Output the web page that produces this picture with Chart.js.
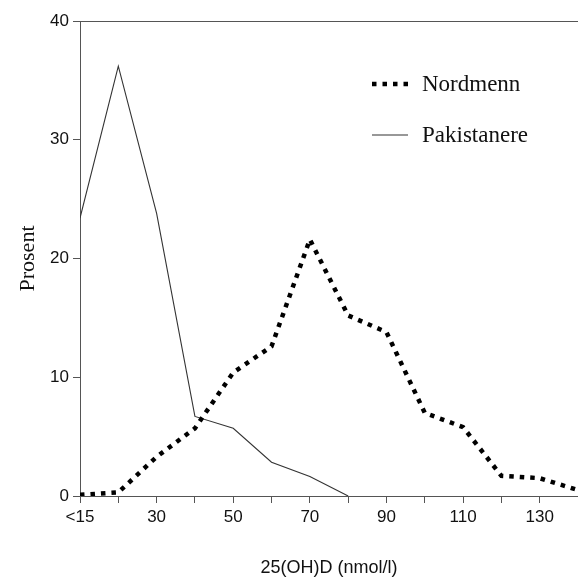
<!DOCTYPE html>
<html>
<head>
<meta charset="utf-8">
<script src="https://cdn.jsdelivr.net/npm/chart.js@4.4.1/dist/chart.umd.min.js"></script>
<style>
  html, body { margin: 0; padding: 0; background: #fff; }
  #wrap { width: 578px; height: 579px; }
</style>
</head>
<body>
<div id="wrap"><canvas id="chart" width="578" height="579"></canvas></div>
<script>
// Data (x = 25(OH)D, nmol/l; y = percent)
const xValues = [10, 20, 30, 40, 50, 60, 70, 80, 90, 100, 110, 120, 130, 140];
const nordmenn = [0.1, 0.3, 3.3, 5.7, 10.4, 12.6, 21.6, 15.2, 13.8, 7.0, 5.8, 1.7, 1.5, 0.5];
const pakXValues = [10, 20, 30, 40, 50, 60, 70, 80];
const pakistanere = [23.4, 36.2, 23.8, 6.7, 5.7, 2.85, 1.65, 0];
const xLabels = { 10: '<15', 30: '30', 50: '50', 70: '70', 90: '90', 110: '110', 130: '130' };
const yTicks = [0, 10, 20, 30, 40];

const axisColor = '#555';
const textColor = '#111';
const sans = '"Liberation Sans", Arial, sans-serif';
const serif = '"Liberation Serif", "Times New Roman", serif';

// Legend inside the plot, plus top frame line
const extras = {
    id: 'extras',
    afterDraw(chart) {
        const ctx = chart.ctx;
        const area = chart.chartArea;
        ctx.save();
        ctx.strokeStyle = axisColor;
        ctx.lineWidth = 1;
        ctx.beginPath();
        ctx.moveTo(area.left, area.top + 0.5);
        ctx.lineTo(area.right, area.top + 0.5);
        ctx.stroke();

        const items = chart.data.datasets;
        ctx.font = '23px ' + serif;
        ctx.fillStyle = textColor;
        ctx.textBaseline = 'middle';
        items.forEach((ds, i) => {
            const y = 84 + i * 51;
            ctx.beginPath();
            ctx.strokeStyle = ds.borderColor;
            ctx.lineWidth = ds.borderWidth;
            ctx.setLineDash(ds.borderDash || []);
            ctx.moveTo(372, y);
            ctx.lineTo(408, y);
            ctx.stroke();
            ctx.setLineDash([]);
            ctx.fillText(ds.label, 422, y + 1);
        });
        ctx.restore();
    }
};

new Chart(document.getElementById('chart'), {
    type: 'line',
    data: {
        datasets: [
            {
                label: 'Nordmenn',
                data: xValues.map((x, i) => ({ x: x, y: nordmenn[i] })),
                borderColor: '#000',
                borderWidth: 4.5,
                borderDash: [4.5, 6],
                borderCapStyle: 'butt',
                pointRadius: 0,
                tension: 0,
                fill: false
            },
            {
                label: 'Pakistanere',
                data: pakXValues.map((x, i) => ({ x: x, y: pakistanere[i] })),
                borderColor: '#333',
                borderWidth: 1.1,
                pointRadius: 0,
                tension: 0,
                fill: false
            }
        ]
    },
    options: {
        responsive: false,
        animation: false,
        layout: { padding: { top: 21, right: 0, left: 0, bottom: 0 } },
        plugins: {
            legend: { display: false },
            tooltip: { enabled: false }
        },
        scales: {
            x: {
                type: 'linear',
                min: 10,
                max: 140,
                afterFit: (s) => { s.height = 83; s.paddingRight = 0; s.paddingLeft = 0; },
                border: { display: true, color: axisColor, width: 1 },
                grid: { drawOnChartArea: false, drawTicks: true, tickLength: 7, color: axisColor },
                ticks: {
                    stepSize: 10,
                    autoSkip: false,
                    maxRotation: 0,
                    padding: 4,
                    color: textColor,
                    font: { family: sans, size: 17 },
                    callback: (v) => xLabels[v] || ''
                },
                title: {
                    display: true,
                    text: '25(OH)D (nmol/l)',
                    color: textColor,
                    font: { family: sans, size: 18 },
                    padding: { top: 0, bottom: 0 }
                }
            },
            y: {
                min: 0,
                max: 40,
                afterFit: (s) => { s.width = 80; },
                afterBuildTicks: (s) => { s.ticks = yTicks.map(v => ({ value: v })); },
                border: { display: true, color: axisColor, width: 1 },
                grid: { drawOnChartArea: false, drawTicks: true, tickLength: 7, color: axisColor },
                ticks: {
                    padding: 4,
                    color: textColor,
                    font: { family: sans, size: 17 }
                },
                title: {
                    display: true,
                    text: 'Prosent',
                    color: textColor,
                    font: { family: serif, size: 22 },
                    padding: { top: 15, bottom: 12 }
                }
            }
        }
    },
    plugins: [extras]
});
</script>
</body>
</html>
